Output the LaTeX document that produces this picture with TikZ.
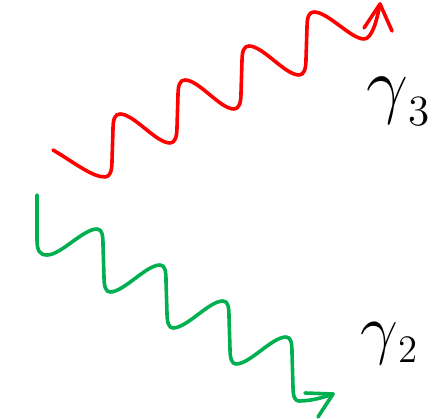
\documentclass[tikz,border=0pt]{standalone}
\usetikzlibrary{calc}
\definecolor{wavered}{RGB}{255,0,0}
\definecolor{wavegreen}{RGB}{0,176,80}
\tikzset{
  photon/.style={line width=3.6pt, line cap=round, line join=round},
  redwave/.style={photon, draw=wavered},
  greenwave/.style={photon, draw=wavegreen},
  gammalabel/.style={anchor=base west, inner sep=0pt, text=black, font=\fontsize{24.88}{24.88}\selectfont}
}
\begin{document}
\begin{tikzpicture}[x=1pt,y=-1pt]
\useasboundingbox (0,0) rectangle (436,419);
% red photon
\coordinate (rs) at (53,150);
\coordinate (rtip) at (380,4);
\draw[redwave] (rs)
  .. controls (75,163) and (92,177) .. (105,177)
  .. controls (110,177) and (112,171) .. (112,161) -- (113,129)
  .. controls (113,119) and (115,114) .. (120,114)
  .. controls (134,114) and (156,143) .. (170,143)
  .. controls (175,143) and (177,137) .. (177,127) -- (178,95)
  .. controls (178,85) and (180,80) .. (185,80)
  .. controls (199,80) and (220,109) .. (234,109)
  .. controls (239,109) and (241,103) .. (241,93) -- (242,61)
  .. controls (242,51) and (244,46) .. (249,46)
  .. controls (263,46) and (285,75) .. (299,75)
  .. controls (304,75) and (306,69) .. (306,59) -- (307,27)
  .. controls (307,17) and (309,12) .. (314,12)
  .. controls (328,12) and (351,39) .. (364,39)
  .. controls (372,39) and (377,20) .. (rtip);
\draw[redwave] (364,28) -- (rtip) -- (392,31);
% green photon
\coordinate (gs) at (37,195);
\coordinate (gtip) at (333,394);
\draw[greenwave] (gs) -- (37,240)
  .. controls (37,251) and (40,255) .. (47,255)
  .. controls (61,255) and (83,229) .. (97,229)
  .. controls (102,229) and (103,235) .. (103,245) -- (104,277)
  .. controls (104,287) and (106,292) .. (110,292)
  .. controls (124,292) and (146,265) .. (160,265)
  .. controls (165,265) and (166,271) .. (166,281) -- (167,313)
  .. controls (167,323) and (169,328) .. (173,328)
  .. controls (187,328) and (209,301) .. (223,301)
  .. controls (228,301) and (229,307) .. (229,317) -- (230,349)
  .. controls (230,359) and (232,364) .. (236,364)
  .. controls (250,364) and (272,337) .. (286,337)
  .. controls (291,337) and (292,343) .. (292,353) -- (293,387)
  .. controls (293,397) and (295,401) .. (299,401)
  .. controls (310,401) and (322,398) .. (gtip);
\draw[greenwave] (305,393) -- (gtip) -- (318,417);
% labels
\node[gammalabel, scale=3] (g3) at (366,110) {$\gamma$\raisebox{-5.3pt}{\fontsize{14.4}{14.4}\selectfont 3}};
\node[gammalabel, scale=2.7] (g2) at (360,351) {$\gamma$\raisebox{-4.1pt}{\fontsize{14.4}{14.4}\selectfont 2}};
\end{tikzpicture}
\end{document}
